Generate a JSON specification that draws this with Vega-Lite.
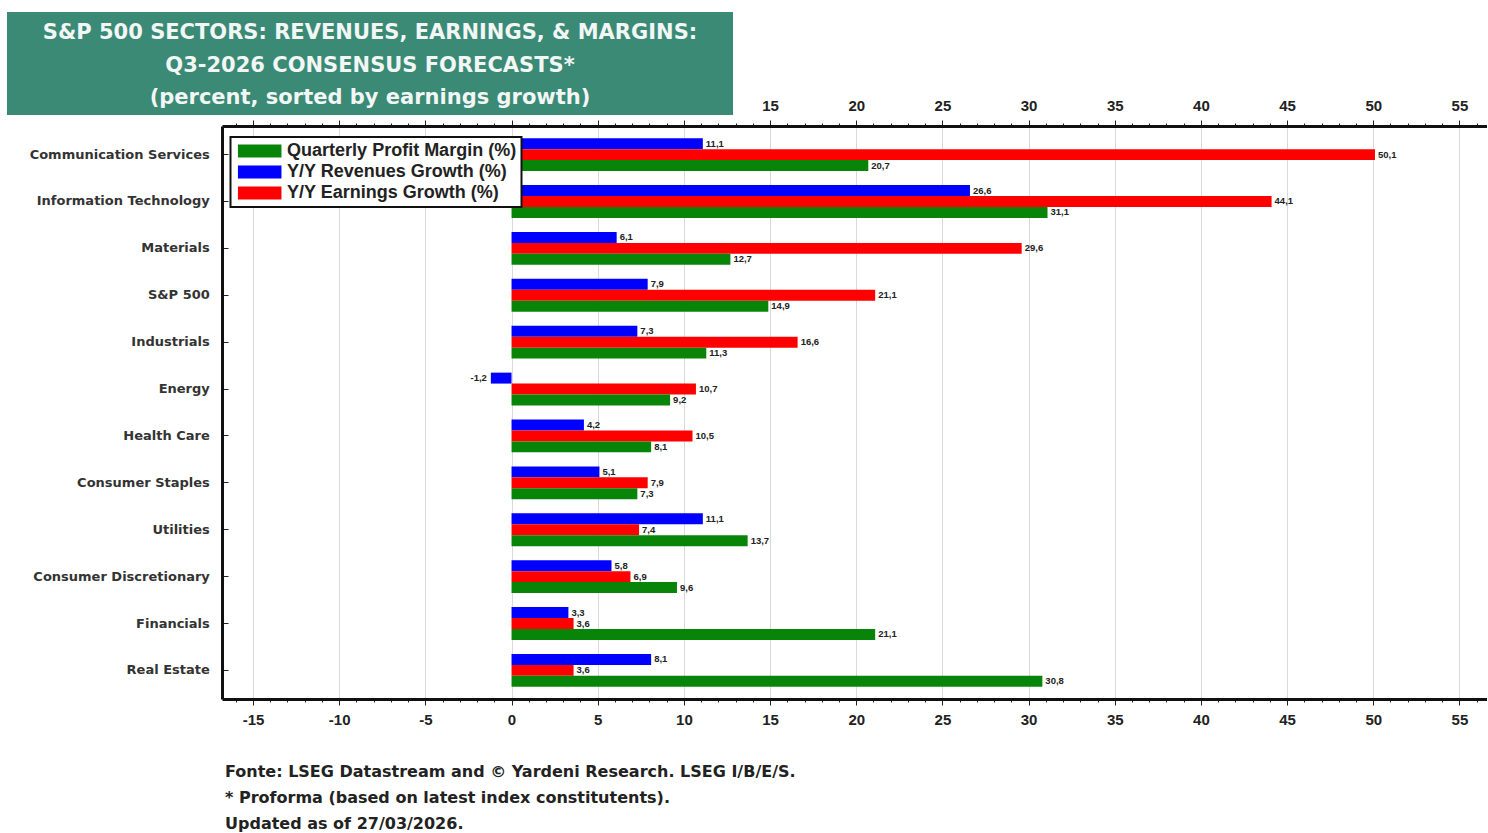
{
  "$schema": "https://vega.github.io/schema/vega-lite/v6.json",
  "padding": {"left": 7, "top": 12, "right": 0, "bottom": 0},
  "background": "white",
  "spacing": -17,
  "resolve": {"scale": {"color": "independent"}, "legend": {"color": "independent"}},
  "config": {
    "font": "Liberation Sans",
    "locale": {"number": {"decimal": ",", "thousands": ".", "grouping": [3], "currency": ["", ""], "minus": "-"}},
    "legend": {"strokeWidth": 2}
  },
  "vconcat": [
    {
      "width": 726,
      "height": 103,
      "view": {"fill": "#3a8a76", "stroke": null},
      "data": {"values": [
        {"line": 1, "text": "S&P 500 SECTORS: REVENUES, EARNINGS, & MARGINS:"},
        {"line": 2, "text": "Q3-2026 CONSENSUS FORECASTS*"},
        {"line": 3, "text": "(percent, sorted by earnings growth)"}
      ]},
      "mark": {"type": "text", "font": "DejaVu Sans", "fontWeight": "bold", "fontSize": 21, "color": "#f2f6f4", "baseline": "middle", "align": "center", "dy": 2},
      "encoding": {
        "y": {"field": "line", "type": "ordinal", "axis": null, "scale": {"type": "point", "padding": 0.6}},
        "text": {"field": "text"}
      }
    },
    {
      "spacing": -1,
      "resolve": {"scale": {"color": "independent"}, "legend": {"color": "independent"}},
      "hconcat": [
        {
          "width": 1,
          "height": 1,
          "view": {"stroke": null},
          "data": {"values": []},
          "mark": "point"
        },
        {
          "width": 1265,
          "height": 573,
          "view": {"stroke": null},
          "title": {
            "text": ["Fonte: LSEG Datastream and © Yardeni Research. LSEG I/B/E/S.", "* Proforma (based on latest index constitutents).", "Updated as of 27/03/2026."],
            "orient": "bottom", "anchor": "start", "frame": "group", "offset": 37, "dx": 3,
            "font": "DejaVu Sans", "fontWeight": "bold", "fontSize": 16, "color": "#222222", "lineHeight": 26
          },
          "data": {"values": [
            {"sector": "Communication Services", "series": "Y/Y Revenues Growth (%)", "value": 11.1},
            {"sector": "Communication Services", "series": "Y/Y Earnings Growth (%)", "value": 50.1},
            {"sector": "Communication Services", "series": "Quarterly Profit Margin (%)", "value": 20.7},
            {"sector": "Information Technology", "series": "Y/Y Revenues Growth (%)", "value": 26.6},
            {"sector": "Information Technology", "series": "Y/Y Earnings Growth (%)", "value": 44.1},
            {"sector": "Information Technology", "series": "Quarterly Profit Margin (%)", "value": 31.1},
            {"sector": "Materials", "series": "Y/Y Revenues Growth (%)", "value": 6.1},
            {"sector": "Materials", "series": "Y/Y Earnings Growth (%)", "value": 29.6},
            {"sector": "Materials", "series": "Quarterly Profit Margin (%)", "value": 12.7},
            {"sector": "S&P 500", "series": "Y/Y Revenues Growth (%)", "value": 7.9},
            {"sector": "S&P 500", "series": "Y/Y Earnings Growth (%)", "value": 21.1},
            {"sector": "S&P 500", "series": "Quarterly Profit Margin (%)", "value": 14.9},
            {"sector": "Industrials", "series": "Y/Y Revenues Growth (%)", "value": 7.3},
            {"sector": "Industrials", "series": "Y/Y Earnings Growth (%)", "value": 16.6},
            {"sector": "Industrials", "series": "Quarterly Profit Margin (%)", "value": 11.3},
            {"sector": "Energy", "series": "Y/Y Revenues Growth (%)", "value": -1.2},
            {"sector": "Energy", "series": "Y/Y Earnings Growth (%)", "value": 10.7},
            {"sector": "Energy", "series": "Quarterly Profit Margin (%)", "value": 9.2},
            {"sector": "Health Care", "series": "Y/Y Revenues Growth (%)", "value": 4.2},
            {"sector": "Health Care", "series": "Y/Y Earnings Growth (%)", "value": 10.5},
            {"sector": "Health Care", "series": "Quarterly Profit Margin (%)", "value": 8.1},
            {"sector": "Consumer Staples", "series": "Y/Y Revenues Growth (%)", "value": 5.1},
            {"sector": "Consumer Staples", "series": "Y/Y Earnings Growth (%)", "value": 7.9},
            {"sector": "Consumer Staples", "series": "Quarterly Profit Margin (%)", "value": 7.3},
            {"sector": "Utilities", "series": "Y/Y Revenues Growth (%)", "value": 11.1},
            {"sector": "Utilities", "series": "Y/Y Earnings Growth (%)", "value": 7.4},
            {"sector": "Utilities", "series": "Quarterly Profit Margin (%)", "value": 13.7},
            {"sector": "Consumer Discretionary", "series": "Y/Y Revenues Growth (%)", "value": 5.8},
            {"sector": "Consumer Discretionary", "series": "Y/Y Earnings Growth (%)", "value": 6.9},
            {"sector": "Consumer Discretionary", "series": "Quarterly Profit Margin (%)", "value": 9.6},
            {"sector": "Financials", "series": "Y/Y Revenues Growth (%)", "value": 3.3},
            {"sector": "Financials", "series": "Y/Y Earnings Growth (%)", "value": 3.6},
            {"sector": "Financials", "series": "Quarterly Profit Margin (%)", "value": 21.1},
            {"sector": "Real Estate", "series": "Y/Y Revenues Growth (%)", "value": 8.1},
            {"sector": "Real Estate", "series": "Y/Y Earnings Growth (%)", "value": 3.6},
            {"sector": "Real Estate", "series": "Quarterly Profit Margin (%)", "value": 30.8}
          ]},
          "encoding": {
            "y": {
              "field": "sector", "type": "nominal",
              "sort": ["Communication Services", "Information Technology", "Materials", "S&P 500", "Industrials", "Energy", "Health Care", "Consumer Staples", "Utilities", "Consumer Discretionary", "Financials", "Real Estate"],
              "scale": {"paddingInner": 0.3, "paddingOuter": 0.26},
              "axis": {
                "title": " ", "titleFontSize": 10, "titlePadding": 5, "minExtent": 200, "maxExtent": 200,
                "labelFont": "DejaVu Sans", "labelFontWeight": "bold", "labelFontSize": 13, "labelColor": "#333333",
                "labelPadding": 18.7, "labelLimit": 300, "tickSize": -6, "tickColor": "#222222", "tickWidth": 1,
                "domainColor": "#111111", "domainWidth": 3, "grid": false
              }
            },
            "yOffset": {
              "field": "series", "type": "nominal",
              "sort": ["Y/Y Revenues Growth (%)", "Y/Y Earnings Growth (%)", "Quarterly Profit Margin (%)"],
              "scale": {"paddingInner": 0, "paddingOuter": 0}
            }
          },
          "layer": [
            {
              "mark": {"type": "bar"},
              "encoding": {
                "x": {
                  "field": "value", "type": "quantitative",
                  "scale": {"domain": [-16.8, 56.6], "nice": false},
                  "axis": {
                    "orient": "bottom", "title": null,
                    "values": [-16,-15,-14,-13,-12,-11,-10,-9,-8,-7,-6,-5,-4,-3,-2,-1,0,1,2,3,4,5,6,7,8,9,10,11,12,13,14,15,16,17,18,19,20,21,22,23,24,25,26,27,28,29,30,31,32,33,34,35,36,37,38,39,40,41,42,43,44,45,46,47,48,49,50,51,52,53,54,55,56],
                    "labelExpr": "datum.value % 5 === 0 ? '' + datum.value : ''",
                    "labelFont": "Liberation Sans", "labelFontWeight": "bold", "labelFontSize": 15, "labelColor": "#222222",
                    "labelPadding": 7, "labelOverlap": false, "labelFlush": false,
                    "tickSize": {"condition": {"test": "datum.value % 5 === 0", "value": 6}, "value": 3},
                    "tickColor": "#222222", "tickWidth": 1,
                    "domainColor": "#111111", "domainWidth": 3,
                    "grid": true, "gridColor": "#d9d9d9",
                    "gridOpacity": {"condition": {"test": "datum.value % 5 === 0", "value": 1}, "value": 0}
                  }
                },
                "x2": {"datum": 0},
                "color": {
                  "field": "series", "type": "nominal",
                  "scale": {"domain": ["Quarterly Profit Margin (%)", "Y/Y Revenues Growth (%)", "Y/Y Earnings Growth (%)"], "range": ["#088508", "#0000ff", "#ff0000"]},
                  "legend": {
                    "title": null, "orient": "none", "legendX": 8.5, "legendY": 11,
                    "fillColor": "white", "strokeColor": "#111111", "padding": 5,
                    "symbolType": "M-3.3,-1H3.3V1H-3.3Z", "symbolSize": 174, "symbolStrokeWidth": 0,
                    "symbolOffset": 15.2,
                    "labelFont": "Liberation Sans", "labelFontWeight": "bold", "labelFontSize": 18, "labelColor": "#222222",
                    "labelOffset": 18.4, "rowPadding": 3, "labelLimit": 400
                  }
                }
              }
            },
            {
              "mark": {
                "type": "text", "font": "Liberation Sans Narrow, Liberation Sans", "fontWeight": "bold", "fontSize": 9.5, "color": "#222222",
                "baseline": "middle",
                "align": {"expr": "datum.value < 0 ? 'right' : 'left'"},
                "dx": {"expr": "datum.value < 0 ? -4 : 3"}
              },
              "encoding": {
                "x": {
                  "field": "value", "type": "quantitative",
                  "axis": {
                    "orient": "top", "title": null,
                    "values": [-16,-15,-14,-13,-12,-11,-10,-9,-8,-7,-6,-5,-4,-3,-2,-1,0,1,2,3,4,5,6,7,8,9,10,11,12,13,14,15,16,17,18,19,20,21,22,23,24,25,26,27,28,29,30,31,32,33,34,35,36,37,38,39,40,41,42,43,44,45,46,47,48,49,50,51,52,53,54,55,56],
                    "labelExpr": "(datum.value % 5 === 0 && datum.value >= 15) ? '' + datum.value : ''",
                    "labelFont": "Liberation Sans", "labelFontWeight": "bold", "labelFontSize": 15, "labelColor": "#222222",
                    "labelPadding": 7, "labelOverlap": false, "labelFlush": false,
                    "tickSize": {"condition": {"test": "datum.value % 5 === 0", "value": 6}, "value": 3},
                    "tickColor": "#222222", "tickWidth": 1,
                    "domainColor": "#111111", "domainWidth": 3,
                    "grid": false
                  }
                },
                "text": {"field": "value", "type": "quantitative", "format": ".1f"}
              }
            }
          ],
          "resolve": {"axis": {"x": "independent"}}
        }
      ]
    }
  ]
}
